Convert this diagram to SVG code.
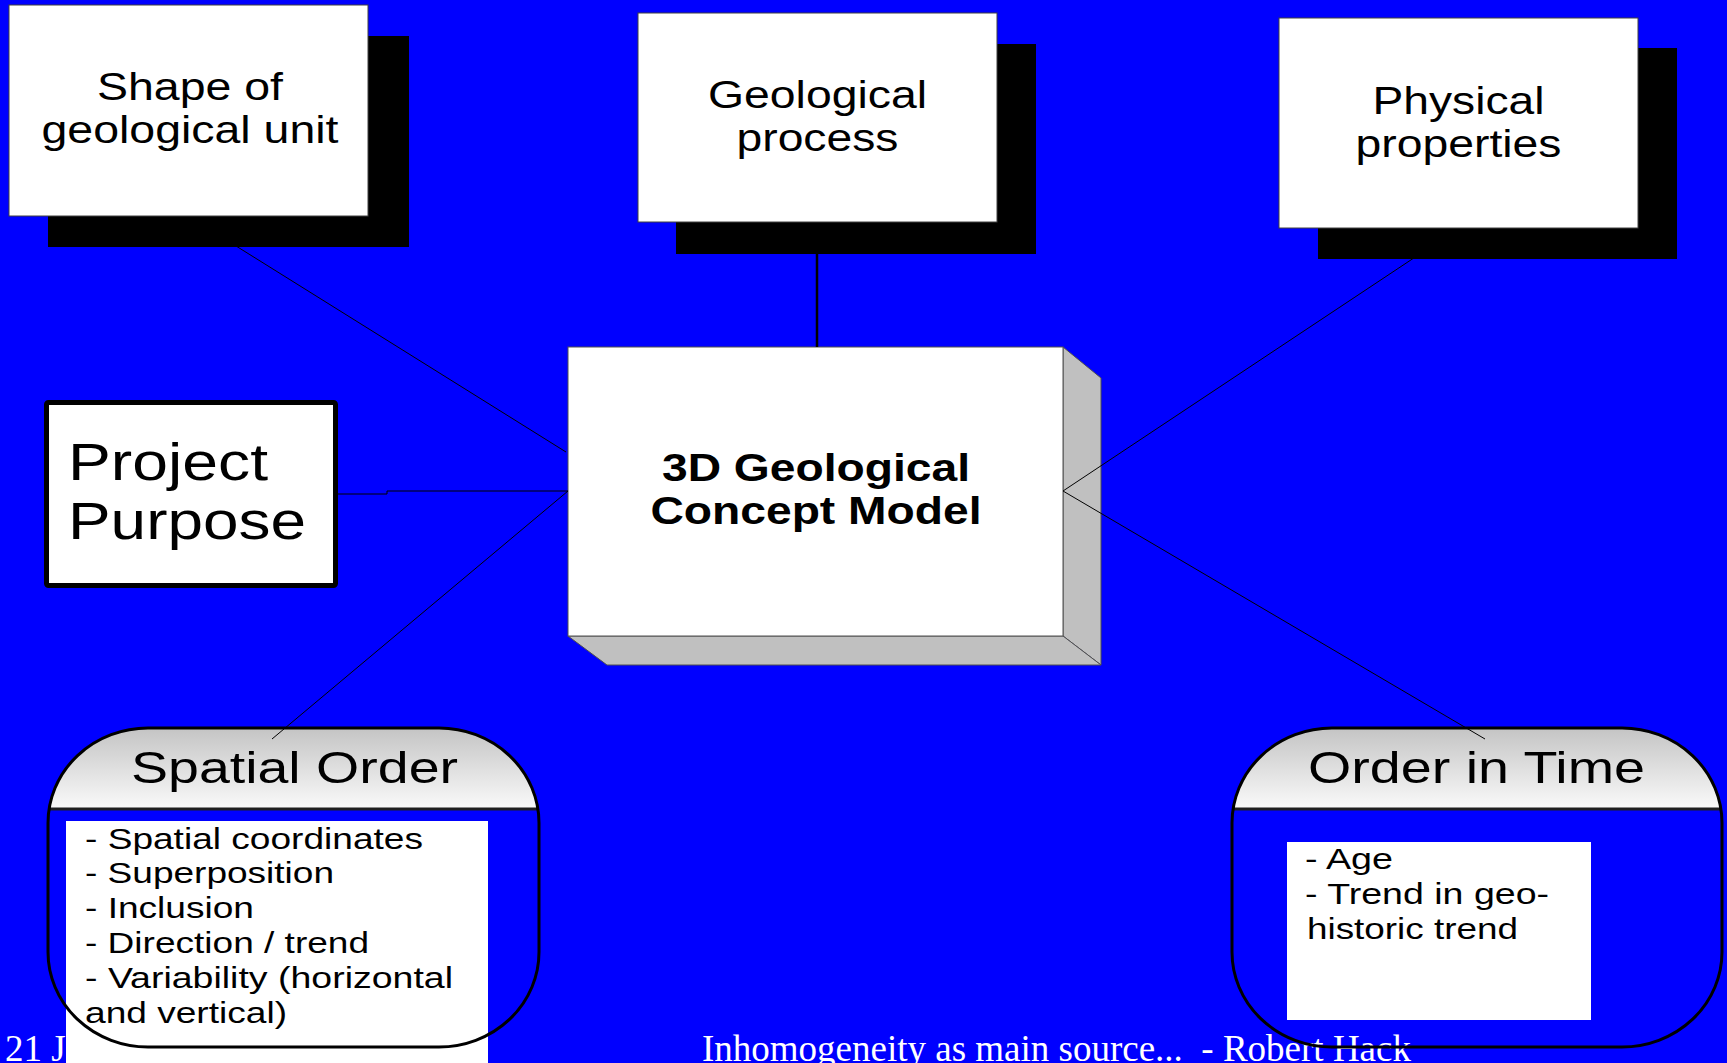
<svg xmlns="http://www.w3.org/2000/svg" width="1727" height="1063" viewBox="0 0 1727 1063">
<style>
.sans{font-family:"Liberation Sans",Arial,sans-serif;fill:#000}
.box{fill:#fff;stroke:#404040;stroke-width:1}
.shadow{fill:#000}
.t38{font-size:38px}
.t45{font-size:45px}
.t30{font-size:30px}
.foot{font-family:"Liberation Serif","Times New Roman",serif;font-size:37px;fill:#fff}
.face{fill:#c0c0c0;stroke:#505050;stroke-width:1}
.outline{fill:none;stroke:#000;stroke-width:3}
.sep{stroke:#202020;stroke-width:3}
.conn{stroke:#000;stroke-width:1;fill:none}
</style>
<defs>
<linearGradient id="hdr" x1="0" y1="0" x2="0" y2="1">
<stop offset="0" stop-color="#c4c4c4"/>
<stop offset="1" stop-color="#fafafa"/>
</linearGradient>
</defs>
<rect x="0" y="0" width="1727" height="1063" fill="#0000ff"/>
<text class="foot" x="5" y="1061">21 J</text>
<text class="foot" x="702" y="1061" xml:space="preserve">Inhomogeneity as main source...  - Robert Hack</text>

<g id="center">
<polygon class="face" points="1063,347 1101,378 1101,665 1063,636"/>
<polygon class="face" points="568,636 1063,636 1101,665 607,665"/>
<rect x="568" y="347" width="495" height="289" fill="#fff" stroke="#505050" stroke-width="1"/>
<text class="sans t38" font-weight="bold" text-anchor="middle" x="816" y="481" textLength="308" lengthAdjust="spacingAndGlyphs">3D Geological</text>
<text class="sans t38" font-weight="bold" text-anchor="middle" x="816" y="524" textLength="331" lengthAdjust="spacingAndGlyphs">Concept Model</text>
</g>

<g id="spatial-order">
<path d="M49.1,809 A100,95 0 0 1 148,728 H439 A100,95 0 0 1 537.9,809 Z" fill="url(#hdr)"/>
<rect x="66" y="821" width="422" height="242" fill="#fff"/>
<text class="sans t45" text-anchor="middle" x="294.5" y="783" textLength="327" lengthAdjust="spacingAndGlyphs">Spatial Order</text>
<text class="sans t30" x="85" y="849" textLength="338" lengthAdjust="spacingAndGlyphs">- Spatial coordinates</text>
<text class="sans t30" x="85" y="883" textLength="249" lengthAdjust="spacingAndGlyphs">- Superposition</text>
<text class="sans t30" x="85" y="918" textLength="169" lengthAdjust="spacingAndGlyphs">- Inclusion</text>
<text class="sans t30" x="85" y="953" textLength="284" lengthAdjust="spacingAndGlyphs">- Direction / trend</text>
<text class="sans t30" x="85" y="988" textLength="368" lengthAdjust="spacingAndGlyphs">- Variability (horizontal</text>
<text class="sans t30" x="85" y="1023" textLength="202" lengthAdjust="spacingAndGlyphs">and vertical)</text>
<line class="sep" x1="49" y1="809" x2="538" y2="809"/>
<rect class="outline" x="48" y="728" width="491" height="319" rx="100" ry="95"/>
</g>

<g id="order-in-time">
<path d="M1233.1,809 A100,95 0 0 1 1332,728 H1622 A100,95 0 0 1 1720.9,809 Z" fill="url(#hdr)"/>
<rect x="1287" y="842" width="304" height="178" fill="#fff"/>
<text class="sans t45" text-anchor="middle" x="1476.5" y="783" textLength="337" lengthAdjust="spacingAndGlyphs">Order in Time</text>
<text class="sans t30" x="1305" y="869" textLength="88" lengthAdjust="spacingAndGlyphs">- Age</text>
<text class="sans t30" x="1305" y="904" textLength="244" lengthAdjust="spacingAndGlyphs">- Trend in geo-</text>
<text class="sans t30" x="1307" y="939" textLength="211" lengthAdjust="spacingAndGlyphs">historic trend</text>
<line class="sep" x1="1233" y1="809" x2="1721" y2="809"/>
<rect class="outline" x="1232" y="728" width="490" height="319" rx="100" ry="95"/>
</g>

<g id="project-purpose">
<rect x="46.5" y="402.5" width="289" height="183" rx="2" fill="#fff" stroke="#000" stroke-width="5"/>
<text class="sans" font-size="51" x="68" y="480" textLength="200" lengthAdjust="spacingAndGlyphs">Project</text>
<text class="sans" font-size="51" x="68" y="539" textLength="238" lengthAdjust="spacingAndGlyphs">Purpose</text>
</g>

<g id="connectors">
<line class="conn" x1="188" y1="216" x2="566" y2="452"/>
<line x1="817" y1="222" x2="817" y2="347" stroke="#000" stroke-width="2.5"/>
<line class="conn" x1="1459" y1="228" x2="1063" y2="491"/>
<path class="conn" d="M338,494 H387 V491 H568"/>
<line class="conn" x1="568" y1="491" x2="272" y2="739"/>
<line class="conn" x1="1063" y1="491" x2="1485" y2="739"/>
</g>

<g id="shape-of-unit">
<rect class="shadow" x="48" y="36" width="361" height="211"/>
<rect class="box" x="9" y="5" width="359" height="211"/>
<text class="sans t38" text-anchor="middle" x="190" y="100" textLength="186" lengthAdjust="spacingAndGlyphs">Shape of</text>
<text class="sans t38" text-anchor="middle" x="190" y="143" textLength="297" lengthAdjust="spacingAndGlyphs">geological unit</text>
</g>

<g id="geological-process">
<rect class="shadow" x="676" y="44" width="360" height="210"/>
<rect class="box" x="638" y="13" width="359" height="209"/>
<text class="sans t38" text-anchor="middle" x="817.5" y="108" textLength="219" lengthAdjust="spacingAndGlyphs">Geological</text>
<text class="sans t38" text-anchor="middle" x="817.5" y="151" textLength="162" lengthAdjust="spacingAndGlyphs">process</text>
</g>

<g id="physical-properties">
<rect class="shadow" x="1318" y="48" width="359" height="211"/>
<rect class="box" x="1279" y="18" width="359" height="210"/>
<text class="sans t38" text-anchor="middle" x="1458.5" y="114" textLength="172" lengthAdjust="spacingAndGlyphs">Physical</text>
<text class="sans t38" text-anchor="middle" x="1458.5" y="157" textLength="206" lengthAdjust="spacingAndGlyphs">properties</text>
</g>
</svg>
